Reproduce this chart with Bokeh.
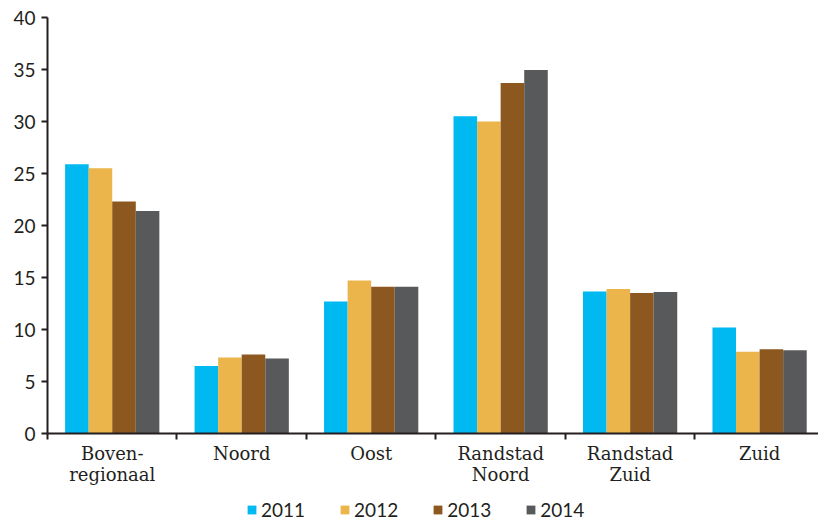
from bokeh.plotting import figure
from bokeh.models import FixedTicker, Legend, ColumnDataSource
from bokeh.layouts import column
from bokeh.embed import file_html
from bokeh.resources import INLINE

categories = ["Boven-\nregionaal", "Noord", "Oost", "Randstad\nNoord", "Randstad\nZuid", "Zuid"]
years = ["2011", "2012", "2013", "2014"]
values = {
    "2011": [25.9, 6.5, 12.7, 30.5, 13.65, 10.2],
    "2012": [25.5, 7.3, 14.7, 30.0, 13.9, 7.85],
    "2013": [22.3, 7.6, 14.1, 33.7, 13.5, 8.1],
    "2014": [21.4, 7.2, 14.1, 34.95, 13.6, 8.0],
}
colors = ["#00B9F1", "#EBB54B", "#8C5820", "#58595B"]
y_ticks = [0, 5, 10, 15, 20, 25, 30, 35, 40]

n = len(categories)
bar_w = 0.182
ink = "#231F20"

p = figure(width=818, height=487, output_backend="svg", toolbar_location=None,
           x_range=(0, 5.955), y_range=(0, 40),
           min_border_left=47, min_border_right=0, min_border_top=17, min_border_bottom=0)
p.outline_line_color = None
p.xgrid.grid_line_color = None
p.ygrid.grid_line_color = None
p.background_fill_color = "white"
p.border_fill_color = "white"

for k, yr in enumerate(years):
    xs = [i + 0.5 + (k - 1.5) * bar_w for i in range(n)]
    src = ColumnDataSource(dict(x=xs, top=values[yr]))
    p.vbar(x="x", top="top", width=bar_w, bottom=0, source=src,
           fill_color=colors[k], line_color=None)

centers = [i + 0.5 for i in range(n)]
p.xaxis.ticker = FixedTicker(ticks=centers, minor_ticks=list(range(n + 1)))
p.xaxis.major_label_overrides = {c: lab for c, lab in zip(centers, categories)}
p.xaxis.major_tick_out = 0
p.xaxis.major_tick_in = 0
p.xaxis.minor_tick_out = 6
p.xaxis.minor_tick_in = 0
p.xaxis.minor_tick_line_color = ink
p.xaxis.minor_tick_line_width = 2
p.xaxis.axis_line_color = ink
p.xaxis.axis_line_width = 2
p.xaxis.major_label_text_font = "DejaVu Serif"
p.xaxis.major_label_text_font_size = "18px"
p.xaxis.major_label_text_color = ink
p.xaxis.major_label_text_line_height = 1.0
p.xaxis.major_label_standoff = 3

p.yaxis.ticker = FixedTicker(ticks=y_ticks)
p.yaxis.minor_tick_line_color = None
p.yaxis.major_tick_out = 6
p.yaxis.major_tick_in = 0
p.yaxis.major_tick_line_width = 2
p.yaxis.major_tick_line_color = ink
p.yaxis.axis_line_color = ink
p.yaxis.axis_line_width = 2
p.yaxis.major_label_text_font = "Lato"
p.yaxis.major_label_text_font_size = "19px"
p.yaxis.major_label_text_color = ink
p.yaxis.major_label_standoff = 6

# Legend strip: same series drawn out of view so only the legend shows
pl = figure(width=818, height=34, output_backend="svg", toolbar_location=None,
            x_range=(0, 5.955), y_range=(1000, 1001), x_axis_type=None, y_axis_type=None,
            min_border_left=0, min_border_right=0, min_border_top=0, min_border_bottom=0)
pl.outline_line_color = None
pl.xgrid.grid_line_color = None
pl.ygrid.grid_line_color = None
pl.background_fill_color = "white"
pl.border_fill_color = "white"

items = []
for k, yr in enumerate(years):
    xs = [i + 0.5 + (k - 1.5) * bar_w for i in range(n)]
    src = ColumnDataSource(dict(x=xs, top=values[yr]))
    r = pl.vbar(x="x", top="top", width=bar_w, bottom=0, source=src,
                fill_color=colors[k], line_color=None)
    items.append((yr, [r]))

legend = Legend(items=items, orientation="horizontal", location=(199, 0),
                glyph_width=11, glyph_height=11, label_standoff=4, spacing=34,
                label_text_font="Lato", label_text_font_size="19px",
                label_text_color=ink, border_line_color=None,
                background_fill_alpha=0, padding=2, margin=0)
pl.add_layout(legend, "center")

layout = column(p, pl, spacing=0)
open("out.html", "w").write(file_html(layout, INLINE))
